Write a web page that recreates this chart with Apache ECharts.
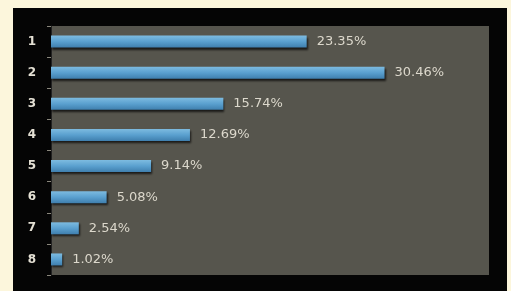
<!DOCTYPE html>
<html><head><meta charset="utf-8">
<script src="https://cdn.jsdelivr.net/npm/echarts@6/dist/echarts.min.js"></script>
<style>html,body{margin:0;padding:0;background:#fcf6dc}#c{width:511px;height:291px}</style>
</head><body><div id="c"></div>
<script>
const categories = ['1','2','3','4','5','6','7','8'];
const values = [23.35, 30.46, 15.74, 12.69, 9.14, 5.08, 2.54, 1.02];
const chart = echarts.init(document.getElementById('c'), null, {renderer:'canvas'});
chart.setOption({
  backgroundColor: '#fcf6dc',
  animation: false,
  graphic: [{type:'rect', z:-10, shape:{x:13,y:8,width:494,height:283}, style:{fill:'#050505'}}],
  grid: {left:51, top:26, right:22, bottom:16, show:true, backgroundColor:'#56554d', borderWidth:0},
  xAxis: {type:'value', min:0, max:40, show:false},
  yAxis: {type:'category', data:categories, inverse:true,
    axisLine:{show:true, lineStyle:{color:'#222', width:1}},
    axisTick:{show:true, length:4, lineStyle:{color:'#8a877c'}},
    axisLabel:{color:'#e4e0d4', fontSize:12, fontWeight:'bold', fontFamily:'DejaVu Sans', margin:15}},
  series: [{type:'bar', data:values, barWidth:12,
    itemStyle:{color:new echarts.graphic.LinearGradient(0,0,0,1,[{offset:0,color:'#7dbbe0'},{offset:0.5,color:'#5aa0cf'},{offset:1,color:'#3f7fae'}]),
      shadowColor:'rgba(0,0,0,0.7)', shadowOffsetY:2, shadowOffsetX:1, shadowBlur:2},
    label:{show:true, position:'right', distance:10, color:'#dcd8cc', fontSize:13, fontFamily:'DejaVu Sans',
      formatter: p => p.value.toFixed(2) + '%'}}]
});
</script></body></html>
